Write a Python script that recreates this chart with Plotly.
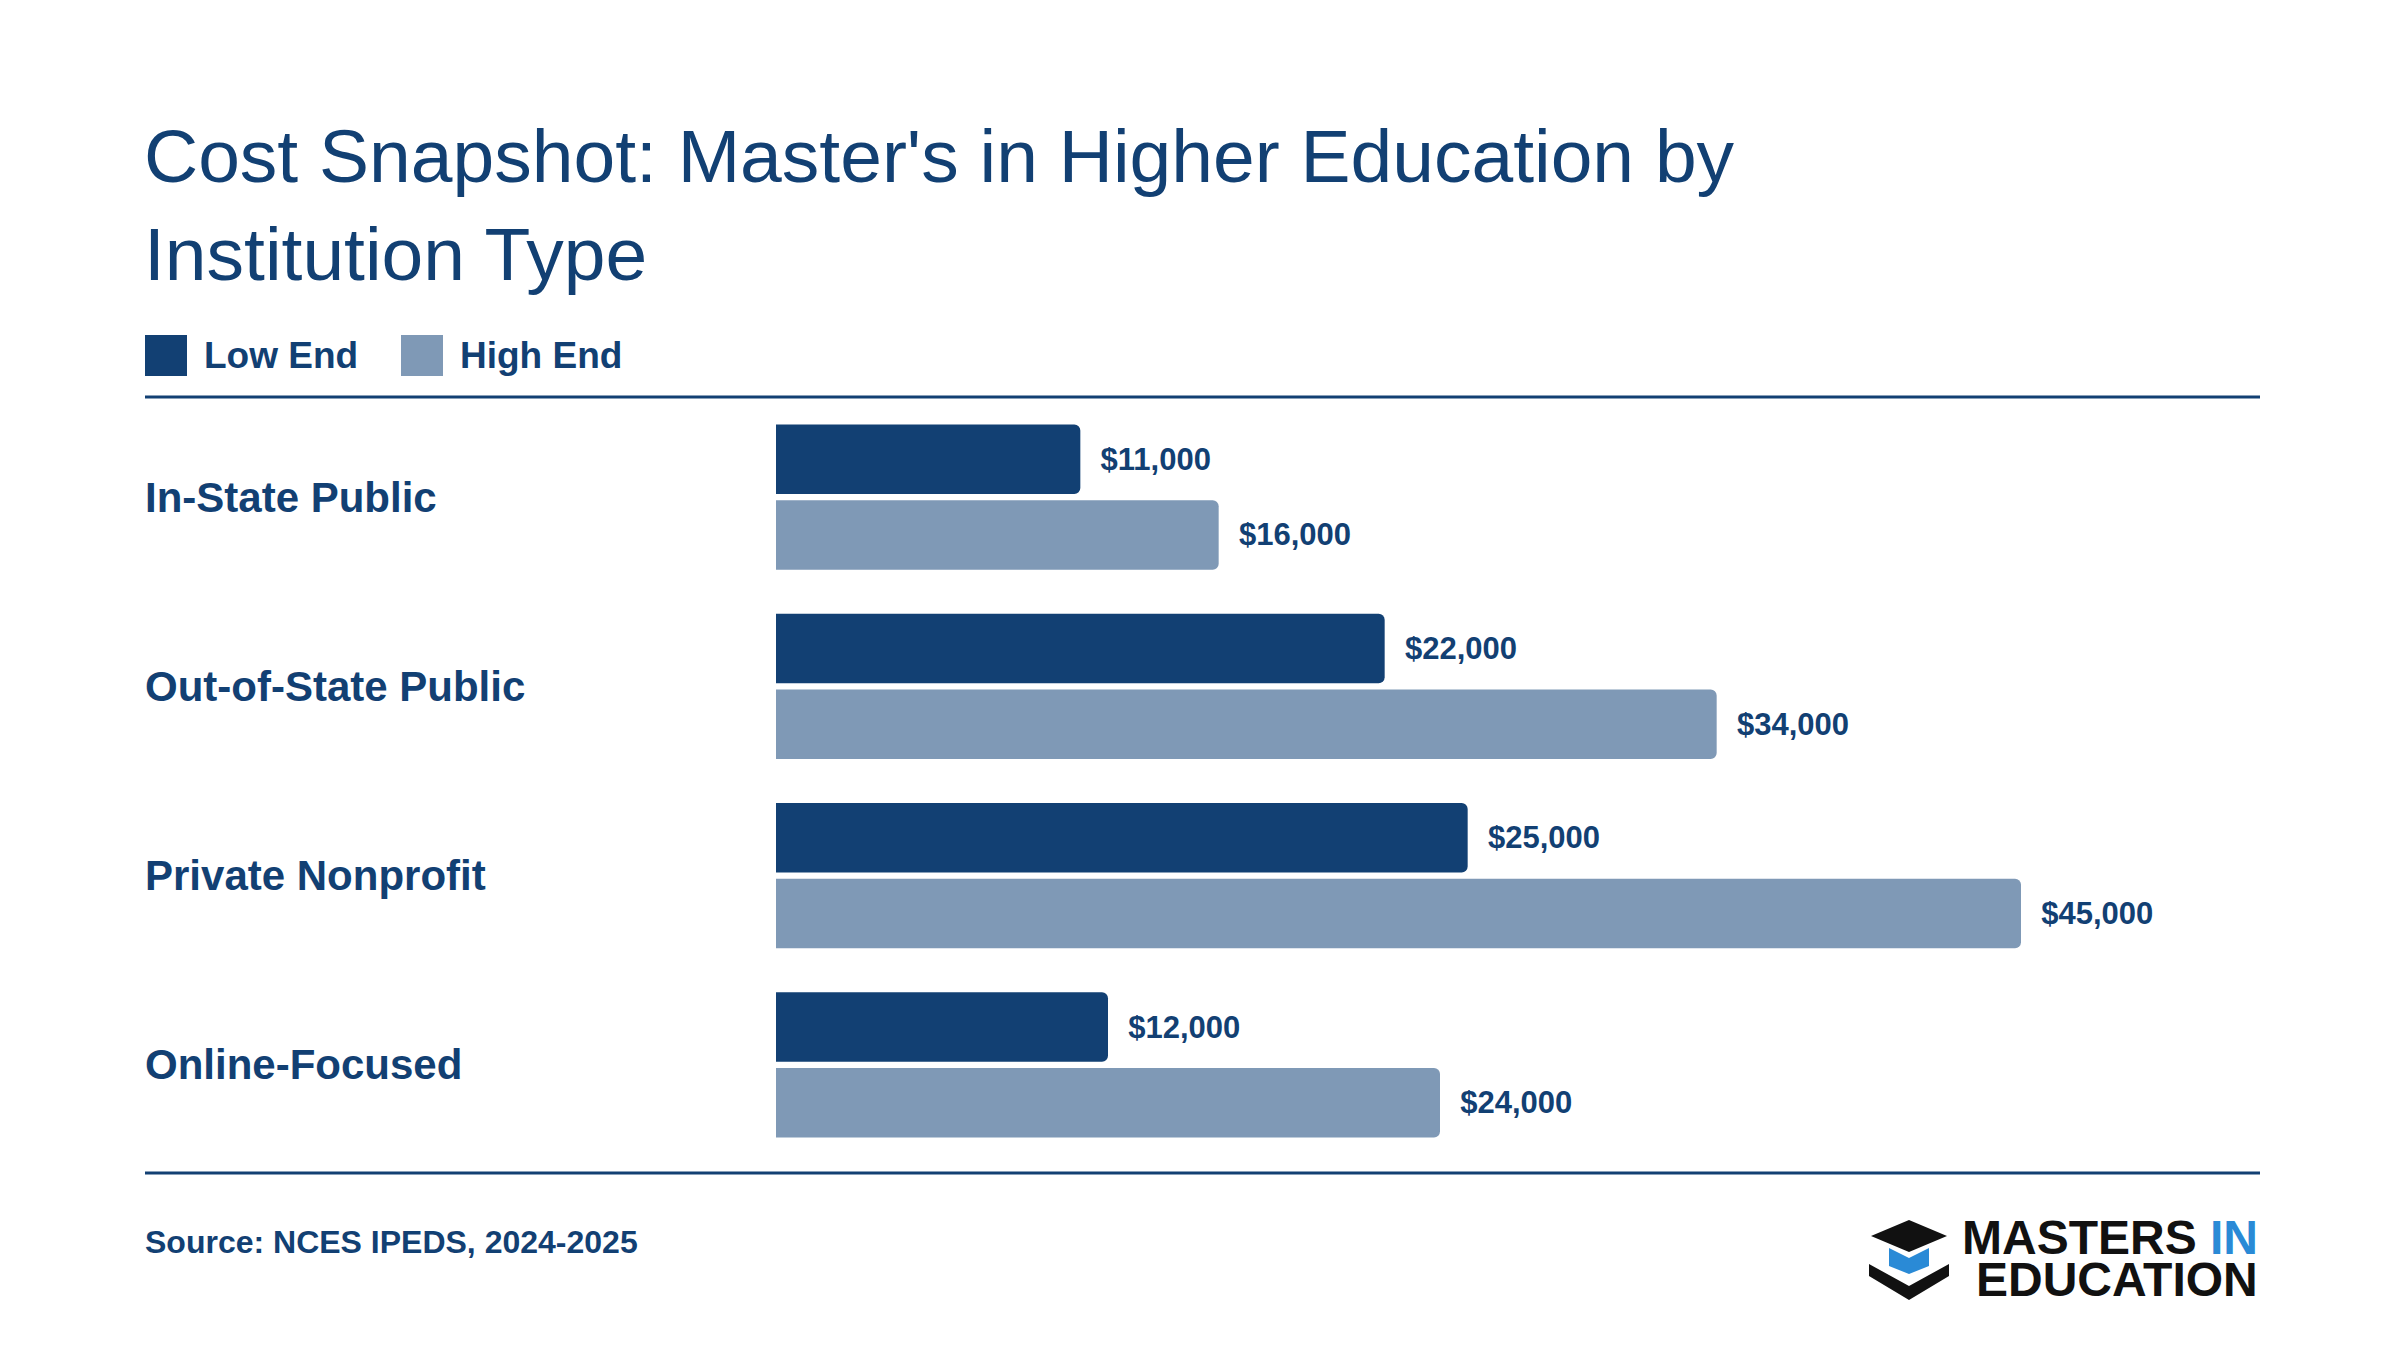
import plotly.graph_objects as go

categories = ["In-State Public", "Out-of-State Public", "Private Nonprofit", "Online-Focused"]
low_end = [11000, 22000, 25000, 12000]
high_end = [16000, 34000, 45000, 24000]
series_names = ["Low End", "High End"]

DARK = "#124073"
LIGHT = "#7f99b6"
FONT = "Liberation Sans, Arial, sans-serif"
W, H = 2400, 1350

def px(x): return x / W
def py(y): return 1 - y / H

X0, X45 = 768, 2013
XR = 2252

fig = go.Figure()
for name, vals, col in [(series_names[0], low_end, DARK), (series_names[1], high_end, LIGHT)]:
    fig.add_trace(go.Bar(
        y=categories, x=vals, orientation="h", name=name,
        marker=dict(color=col, cornerradius=6, line=dict(width=0)),
        text=[f"<b>\u00a0\u00a0${v:,.0f}</b>" for v in vals], textposition="outside",
        textfont=dict(family=FONT, size=31, color=DARK),
        cliponaxis=False, hoverinfo="skip"))

fig.update_layout(
    width=W, height=H, margin=dict(l=0, r=0, t=0, b=0),
    paper_bgcolor="white", plot_bgcolor="white", showlegend=False,
    barmode="group", bargap=0.2, bargroupgap=0.08,
    font=dict(family=FONT, color=DARK),
    xaxis=dict(domain=[px(X0), px(XR)], range=[0, 45000 * (XR - X0) / (X45 - X0)],
               visible=False, fixedrange=True),
    yaxis=dict(domain=[py(1161), py(385)], range=[3.55, -0.55],
               showticklabels=False, showgrid=False, zeroline=False),
)

ann = []
ann.append(dict(x=px(134), y=py(197), xref="paper", yref="paper", xanchor="left", yanchor="middle",
                text="Cost Snapshot: Master's in Higher Education by<br>Institution Type",
                showarrow=False, align="left", font=dict(size=75, color=DARK, family=FONT)))
shapes = []
for name, col, x0 in [(series_names[0], DARK, 137), (series_names[1], LIGHT, 393)]:
    shapes.append(dict(type="rect", xref="paper", yref="paper", x0=px(x0), x1=px(x0 + 42),
                       y0=py(368), y1=py(327), fillcolor=col, line=dict(width=0)))
    ann.append(dict(x=px(x0 + 57), y=py(347), xref="paper", yref="paper", xanchor="left", yanchor="middle",
                    text=f"<b>{name}</b>", showarrow=False, font=dict(size=37, color=DARK, family=FONT)))
for y in (389, 1165):
    shapes.append(dict(type="line", xref="paper", yref="paper", x0=px(137), x1=px(XR),
                       y0=py(y), y1=py(y), line=dict(color=DARK, width=3)))
for c in categories:
    ann.append(dict(x=px(135), y=c, xref="paper", yref="y", xanchor="left", yanchor="middle",
                    text=f"<b>{c}</b>", showarrow=False, font=dict(size=42, color=DARK, family=FONT)))
ann.append(dict(x=px(135), y=py(1234), xref="paper", yref="paper", xanchor="left", yanchor="middle",
                text="<b>Source: NCES IPEDS, 2024-2025</b>", showarrow=False,
                font=dict(size=32, color=DARK, family=FONT)))
LOGO = "Liberation Sans Narrow, Arial Narrow, sans-serif"
ann.append(dict(x=px(XR), y=py(1229), xref="paper", yref="paper", xanchor="right", yanchor="middle",
                text="<b>MASTERS <span style='color:#2a8ad6'>IN</span></b>", showarrow=False,
                font=dict(size=48, color="#111111", family=LOGO)))
ann.append(dict(x=px(XR), y=py(1271), xref="paper", yref="paper", xanchor="right", yanchor="middle",
                text="<b>EDUCATION</b>", showarrow=False,
                font=dict(size=48, color="#111111", family=LOGO)))
cx = 1901
shapes.append(dict(type="path", xref="paper", yref="paper",
                   path=f"M {px(cx-38)},{py(1228)} L {px(cx)},{py(1212)} L {px(cx+38)},{py(1228)} L {px(cx)},{py(1244)} Z",
                   fillcolor="#111111", line=dict(width=0)))
shapes.append(dict(type="path", xref="paper", yref="paper",
                   path=f"M {px(cx-20)},{py(1240)} L {px(cx-20)},{py(1258)} L {px(cx)},{py(1266)} L {px(cx+20)},{py(1258)} L {px(cx+20)},{py(1240)} L {px(cx)},{py(1250)} Z",
                   fillcolor="#2a8ad6", line=dict(width=0)))
shapes.append(dict(type="path", xref="paper", yref="paper",
                   path=f"M {px(cx-40)},{py(1256)} L {px(cx)},{py(1278)} L {px(cx+40)},{py(1256)} L {px(cx+40)},{py(1268)} L {px(cx)},{py(1292)} L {px(cx-40)},{py(1268)} Z",
                   fillcolor="#111111", line=dict(width=0)))
fig.update_layout(annotations=ann, shapes=shapes)
fig.write_html("out.html")
